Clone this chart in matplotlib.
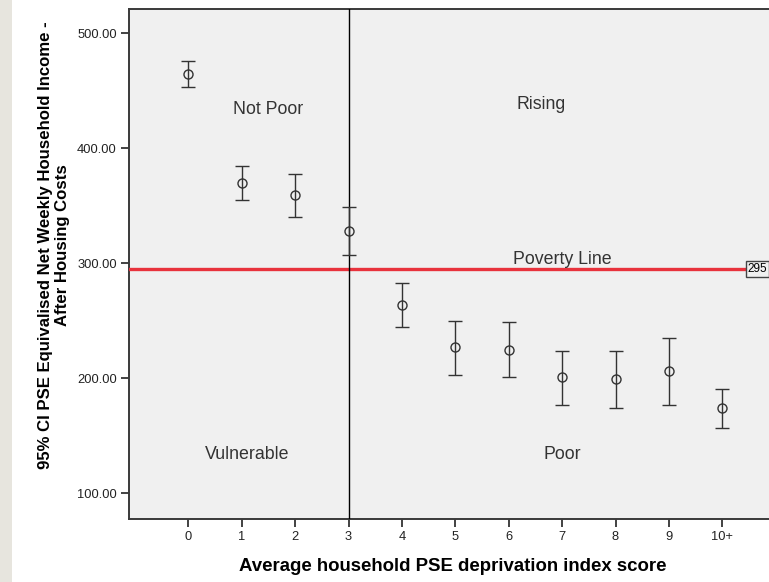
import matplotlib
matplotlib.use("Agg")
import matplotlib.pyplot as plt
from matplotlib.patches import Rectangle

plt.rcParams['font.family'] = ['Liberation Sans', 'DejaVu Sans']

# PSE deprivation score groups
categories = ["0", "1", "2", "3", "4", "5", "6", "7", "8", "9", "10+"]
means = [465, 370, 359, 328, 264, 227, 225, 201, 199, 206, 174]
upper = [476, 385, 378, 349, 283, 250, 249, 224, 224, 235, 191]
lower = [453, 355, 340, 307, 245, 203, 201, 177, 174, 177, 157]
poverty_line = 295
split_score = 3

yticks = [100, 200, 300, 400, 500]

fig = plt.figure(figsize=(7.69, 5.82), dpi=100)
fig.patch.set_facecolor("white")
# beige strip of the slide background on the left
fig.patches.append(Rectangle((0, 0), 12 / 769, 1, transform=fig.transFigure,
                             facecolor="#e7e5de", edgecolor="none", zorder=0))

ax = fig.add_axes([129.3 / 769, 63.3 / 582, 646.4 / 769, 510.0 / 582])
ax.set_facecolor("#f0f0f0")

x = list(range(len(categories)))
err_lo = [m - l for m, l in zip(means, lower)]
err_hi = [u - m for m, u in zip(means, upper)]
ax.errorbar(x, means, yerr=[err_lo, err_hi], fmt="o", mfc="none", mec="#333333",
            ms=6.5, mew=1.0, ecolor="#333333", elinewidth=1.0, capsize=5.2,
            capthick=1.0, zorder=4)

ax.axhline(poverty_line, color="#e8323c", lw=2.4, zorder=3)
ax.axvline(split_score, color="black", lw=1.0, zorder=3)

ax.text(10.47, poverty_line, str(poverty_line), fontsize=8.5, va="center", ha="left",
        bbox=dict(boxstyle="square,pad=0.15", fc="#f0f0f0", ec="#444444", lw=1.0),
        zorder=5)

txt = dict(fontsize=12.8, color="#333333", ha="center", va="center")
ax.text(1.5, 434, "Not Poor", **txt)
ax.text(6.6, 438, "Rising", **txt)
ax.text(1.1, 134, "Vulnerable", **txt)
ax.text(7.0, 134, "Poor", **txt)
ax.text(7.0, 296, "Poverty Line", fontsize=12.8, color="#333333", ha="center", va="bottom")

ax.set_xlim(-1.105, 11.0)
ax.set_ylim(77.9, 521.4)
ax.set_xticks(x)
ax.set_xticklabels(categories)
ax.set_yticks(yticks)
ax.set_yticklabels(["%.2f" % v for v in yticks])
ax.tick_params(length=6, width=1.2, labelsize=9.3, colors="#222222", pad=3)

for side in ["left", "bottom", "top", "right"]:
    ax.spines[side].set_color("#3a3a3a")
    ax.spines[side].set_linewidth(1.4)

ax.set_xlabel("Average household PSE deprivation index score", fontsize=13.4,
              fontweight="bold", labelpad=11)
fig.text(54 / 769, (582 - 245) / 582,
         "95% CI PSE Equivalised Net Weekly Household Income -\nAfter Housing Costs",
         rotation=90, ha="center", va="center", fontsize=12.1, fontweight="bold",
         linespacing=1.1)

fig.savefig("out.png", dpi=100)
